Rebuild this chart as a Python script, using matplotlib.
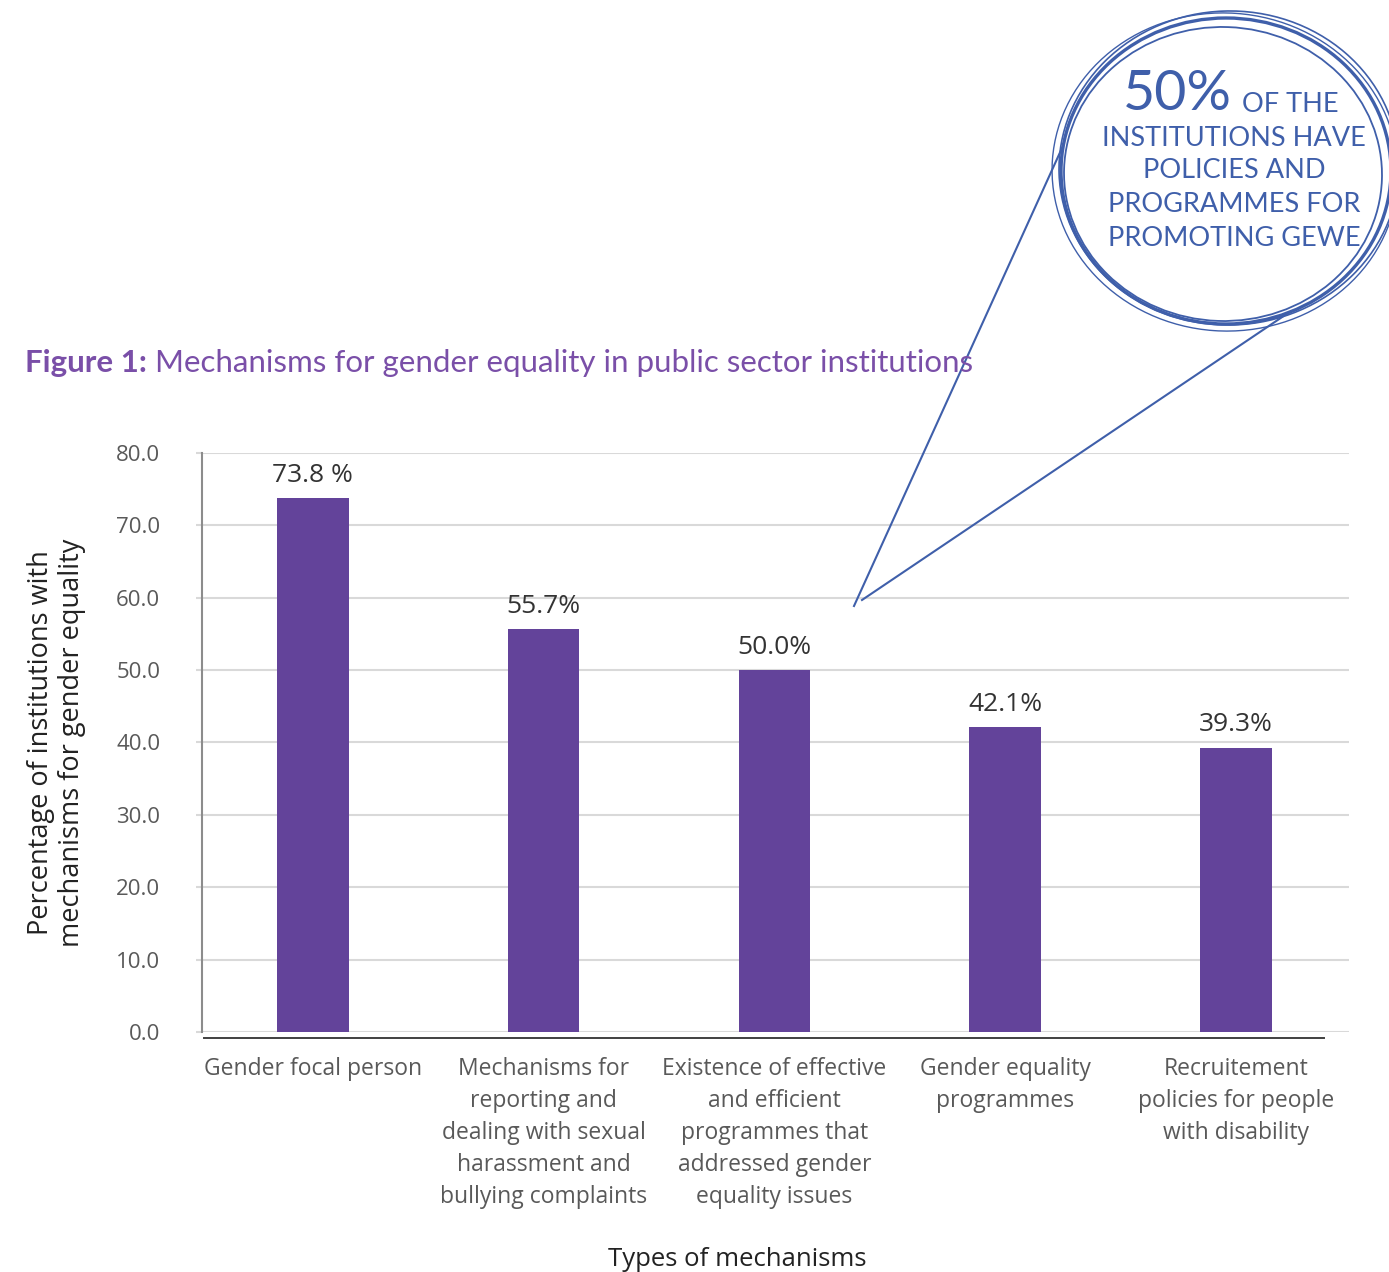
import numpy as np
import matplotlib.pyplot as plt
from matplotlib.patches import Ellipse

plt.rcParams['font.family'] = ['Open Sans', 'DejaVu Sans']

# survey results
categories = [
    'Gender focal person',
    'Mechanisms for\nreporting and\ndealing with sexual\nharassment and\nbullying complaints',
    'Existence of effective\nand efficient\nprogrammes that\naddressed gender\nequality issues',
    'Gender equality\nprogrammes',
    'Recruitement\npolicies for people\nwith disability',
]
values = [73.8, 55.7, 50.0, 42.1, 39.3]
value_labels = ['73.8 %', '55.7%', '50.0%', '42.1%', '39.3%']
yticks = np.arange(0, 90, 10)

bar_color = '#63439A'
title_color = '#7A4FA8'
callout_color = '#3F5FAA'

fig = plt.figure(figsize=(13.89, 12.72), dpi=100)
ax = fig.add_axes([0.1454, 0.1887, 0.8258, 0.4552])

x = np.arange(len(categories))
ax.bar(x, values, width=0.31, color=bar_color, zorder=3)
for xi, v, lab in zip(x, values, value_labels):
    ax.text(xi, v + 1.4, lab, ha='center', va='bottom', fontsize=19,
            color='#333333')

ax.set_xlim(-0.48, 4.49)
ax.set_ylim(0, 80)
ax.set_yticks(yticks)
ax.set_yticklabels([f'{t:.1f}' for t in yticks], fontsize=16, color='#595959')
ax.set_xticks(x)
ax.set_xticklabels(categories, fontsize=16.5, color='#595959', linespacing=1.45)
ax.tick_params(axis='x', length=0, pad=18)
ax.tick_params(axis='y', length=4, color='#D9D9D9', width=1.5, pad=26)
ax.grid(axis='y', color='#D9D9D9', linewidth=1.5, zorder=0)
for s in ['top', 'right', 'bottom']:
    ax.spines[s].set_visible(False)
ax.spines['left'].set_color('#8C8C8C')
ax.spines['left'].set_linewidth(1.5)

# darker base line under the zero gridline
ax.plot([-0.47, 4.38], [-0.8, -0.8], color='#404040', lw=1.4, clip_on=False, zorder=4)

ax.set_ylabel('Percentage of institutions with\nmechanisms for gender equality',
              fontsize=19.5, color='#222222', labelpad=22, linespacing=1.12)
ax.set_xlabel('Types of mechanisms', fontsize=18.5, color='#222222')
ax.xaxis.set_label_coords(0.467, -0.372)

# overlay in pixel units for the heading and the callout
ov = fig.add_axes([0, 0, 1, 1], zorder=5)
ov.set_xlim(0, 1389)
ov.set_ylim(1272, 0)
ov.axis('off')
ov.patch.set_alpha(0)

t1 = ov.text(25, 363, 'Figure 1:', fontsize=22.5, fontweight='bold', color=title_color,
             va='center', ha='left', family=['Lato', 'DejaVu Sans'])
fig.canvas.draw()
bb = t1.get_window_extent().transformed(ov.transData.inverted())
ov.text(bb.x1 + 8, 363, 'Mechanisms for gender equality in public sector institutions',
        fontsize=22.5, color=title_color, va='center', ha='left', family=['Lato', 'DejaVu Sans'])

# callout pointer lines
ov.plot([854, 1092], [606, 82], color=callout_color, lw=1.5)
ov.plot([862, 1300], [600, 305], color=callout_color, lw=1.5)

# hand-drawn looking rings
rings = [
    (1226, 171, 330, 306, 0, 2.4),
    (1223, 174, 318, 294, 2, 1.3),
    (1229, 168, 340, 314, -2, 1.2),
    (1225, 172, 346, 318, 4, 1.0),
]
ov.add_patch(Ellipse((1226, 171), 330, 306, facecolor='white', edgecolor='none', zorder=2))
for cx, cy, w, h, ang, lw in rings:
    ov.add_patch(Ellipse((cx, cy), w, h, angle=ang, fill=False,
                         edgecolor=callout_color, lw=lw, zorder=3))

callout_font = ['Lato', 'DejaVu Sans']
ov.text(1232, 95, '50%', fontsize=40, color=callout_color, ha='right', va='center',
        family=callout_font, zorder=4)
ov.text(1242, 104, 'OF THE', fontsize=19.5, color=callout_color, ha='left', va='center',
        family=callout_font, zorder=4)
for yy, line in zip([138, 171, 205, 238],
                    ['INSTITUTIONS HAVE', 'POLICIES AND', 'PROGRAMMES FOR', 'PROMOTING GEWE']):
    ov.text(1234, yy, line, fontsize=19.5, color=callout_color, ha='center', va='center',
            family=callout_font, zorder=4)

fig.savefig('out.png', dpi=100, facecolor='white')
